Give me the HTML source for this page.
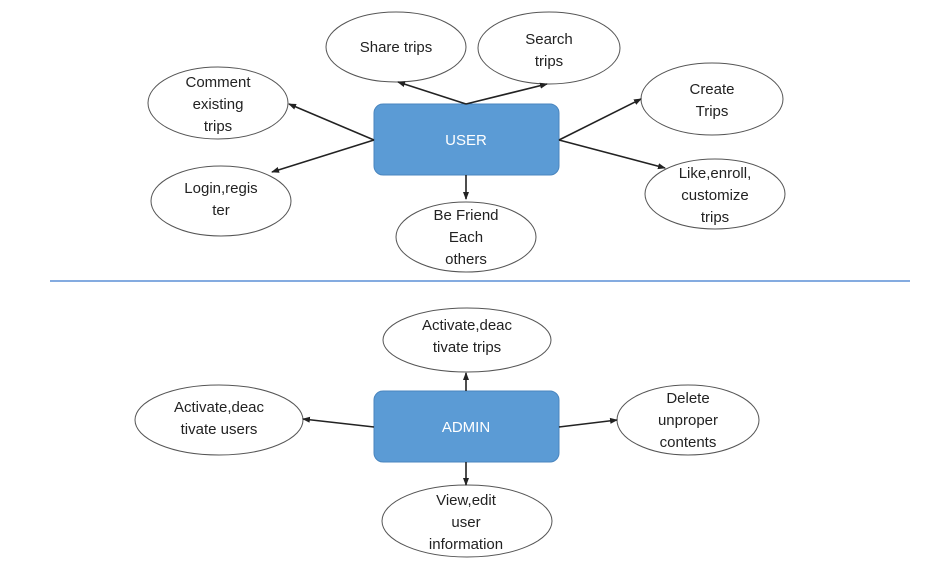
<!DOCTYPE html>
<html><head><meta charset="utf-8"><style>
html,body{margin:0;padding:0;background:#fff;}
svg{display:block;}
text{font-family:"Liberation Sans",sans-serif;font-size:15px;fill:#222;text-anchor:middle;}
.w{fill:#fff;}
</style></head><body>
<svg width="936" height="576" viewBox="0 0 936 576" xmlns="http://www.w3.org/2000/svg">
<defs><marker id="a" markerWidth="8" markerHeight="8" refX="7" refY="4" orient="auto" markerUnits="userSpaceOnUse"><path d="M0,1 L8,4 L0,7 z" fill="#222"/></marker></defs>
<g fill="#fff" stroke="#555" stroke-width="1">
<ellipse cx="396" cy="47" rx="70" ry="35"/>
<ellipse cx="549" cy="48" rx="71" ry="36"/>
<ellipse cx="218" cy="103" rx="70" ry="36"/>
<ellipse cx="221" cy="201" rx="70" ry="35"/>
<ellipse cx="712" cy="99" rx="71" ry="36"/>
<ellipse cx="715" cy="194" rx="70" ry="35"/>
<ellipse cx="466" cy="237" rx="70" ry="35"/>
<ellipse cx="467" cy="340" rx="84" ry="32"/>
<ellipse cx="219" cy="420" rx="84" ry="35"/>
<ellipse cx="688" cy="420" rx="71" ry="35"/>
<ellipse cx="467" cy="521" rx="85" ry="36"/>
</g>
<rect x="374" y="104" width="185" height="71" rx="9" fill="#5b9bd5" stroke="#4a86bf"/>
<rect x="374" y="391" width="185" height="71" rx="9" fill="#5b9bd5" stroke="#4a86bf"/>
<line x1="50" y1="281" x2="910" y2="281" stroke="#5b8fd6" stroke-width="1.5"/>
<g stroke="#222" stroke-width="1.6" marker-end="url(#a)">
<line x1="466" y1="104" x2="398" y2="82"/>
<line x1="466" y1="104" x2="547" y2="84"/>
<line x1="374" y1="140" x2="289" y2="104"/>
<line x1="374" y1="140" x2="272" y2="172"/>
<line x1="559" y1="140" x2="641" y2="99"/>
<line x1="559" y1="140" x2="665" y2="168"/>
<line x1="466" y1="175" x2="466" y2="199"/>
<line x1="466" y1="391" x2="466" y2="373"/>
<line x1="374" y1="427" x2="303" y2="419"/>
<line x1="559" y1="427" x2="617" y2="420"/>
<line x1="466" y1="462" x2="466" y2="485"/>
</g>
<text class="w" x="466" y="145">USER</text>
<text class="w" x="466" y="432">ADMIN</text>
<text x="396" y="52">Share trips</text>
<text x="549" y="44">Search</text><text x="549" y="66">trips</text>
<text x="218" y="87">Comment</text><text x="218" y="109">existing</text><text x="218" y="131">trips</text>
<text x="221" y="193">Login,regis</text><text x="221" y="215">ter</text>
<text x="712" y="94">Create</text><text x="712" y="116">Trips</text>
<text x="715" y="178">Like,enroll,</text><text x="715" y="200">customize</text><text x="715" y="222">trips</text>
<text x="466" y="220">Be Friend</text><text x="466" y="242">Each</text><text x="466" y="264">others</text>
<text x="467" y="330">Activate,deac</text><text x="467" y="352">tivate trips</text>
<text x="219" y="412">Activate,deac</text><text x="219" y="434">tivate users</text>
<text x="688" y="403">Delete</text><text x="688" y="425">unproper</text><text x="688" y="447">contents</text>
<text x="466" y="505">View,edit</text><text x="466" y="527">user</text><text x="466" y="549">information</text>
</svg>
</body></html>
